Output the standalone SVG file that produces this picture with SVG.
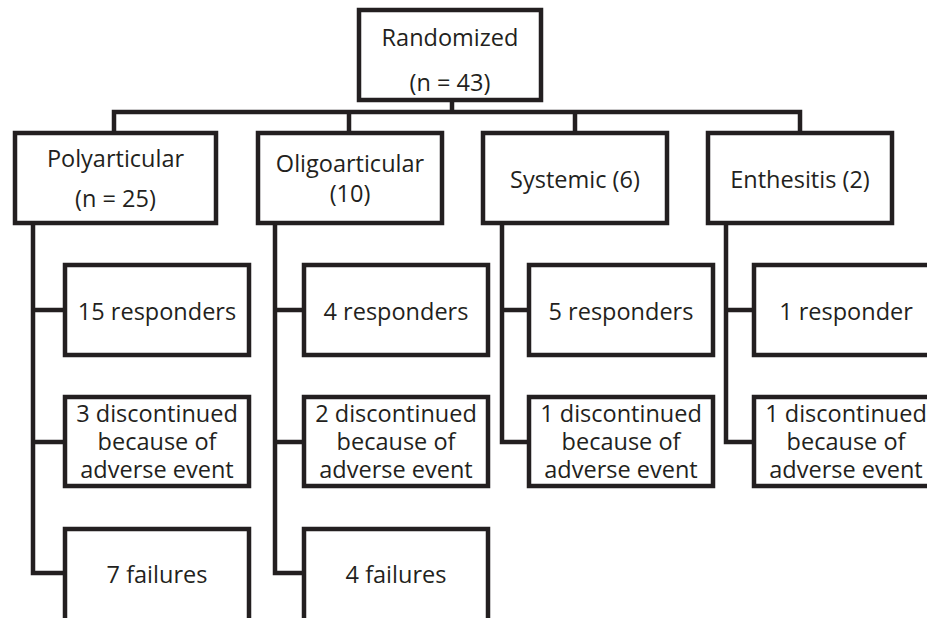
<svg xmlns="http://www.w3.org/2000/svg" width="927" height="618" viewBox="0 0 927 618">
<style>
.box{fill:#fff;stroke:#231f20;stroke-width:4.5}
.c{fill:none;stroke:#231f20;stroke-width:4.5;stroke-linejoin:miter;stroke-linecap:square}
text{font-family:"Open Sans","Noto Sans","Liberation Sans",sans-serif;font-size:23.5px;fill:#231f20;text-anchor:middle}
</style>
<rect width="927" height="618" fill="#fff"/>
<g id="connectors">
<path class="c" d="M452 101V112M114 131V112H800V131M349 112V131M575 112V131"/>
<path class="c" d="M33 226V573H63M33 310H63M33 442H63"/>
<path class="c" d="M275 226V573H302M275 310H302M275 442H302"/>
<path class="c" d="M502 226V442H527M502 310H527"/>
<path class="c" d="M726 226V442H752M726 310H752"/>
</g>
<g id="root"><rect class="box" x="359" y="10" width="182" height="90"/><text x="450" y="46">Randomized</text><text x="450" y="91">(n = 43)</text></g>
<g id="poly"><rect class="box" x="15" y="133" width="201" height="90"/><text x="115.5" y="167">Polyarticular</text><text x="115.5" y="207">(n = 25)</text></g>
<g id="oligo"><rect class="box" x="258" y="133" width="184" height="90"/><text x="350" y="172">Oligoarticular</text><text x="350" y="202">(10)</text></g>
<g id="systemic"><rect class="box" x="483" y="133" width="184" height="90"/><text x="575" y="188">Systemic (6)</text></g>
<g id="enthesitis"><rect class="box" x="708" y="133" width="184" height="90"/><text x="800" y="188">Enthesitis (2)</text></g>
<g id="poly-resp"><rect class="box" x="65" y="265" width="184" height="90"/><text x="157" y="320">15 responders</text></g>
<g id="poly-disc"><rect class="box" x="65" y="397" width="184" height="89"/><text x="157" y="422">3 discontinued</text><text x="157" y="450">because of</text><text x="157" y="478">adverse event</text></g>
<g id="poly-fail"><rect class="box" x="65" y="529" width="184" height="100"/><text x="157" y="583">7 failures</text></g>
<g id="oligo-resp"><rect class="box" x="304" y="265" width="184" height="90"/><text x="396" y="320">4 responders</text></g>
<g id="oligo-disc"><rect class="box" x="304" y="397" width="184" height="89"/><text x="396" y="422">2 discontinued</text><text x="396" y="450">because of</text><text x="396" y="478">adverse event</text></g>
<g id="oligo-fail"><rect class="box" x="304" y="529" width="184" height="100"/><text x="396" y="583">4 failures</text></g>
<g id="sys-resp"><rect class="box" x="529" y="265" width="184" height="90"/><text x="621" y="320">5 responders</text></g>
<g id="sys-disc"><rect class="box" x="529" y="397" width="184" height="89"/><text x="621" y="422">1 discontinued</text><text x="621" y="450">because of</text><text x="621" y="478">adverse event</text></g>
<g id="enth-resp"><rect class="box" x="754" y="265" width="184" height="90"/><text x="846" y="320">1 responder</text></g>
<g id="enth-disc"><rect class="box" x="754" y="397" width="184" height="89"/><text x="846" y="422">1 discontinued</text><text x="846" y="450">because of</text><text x="846" y="478">adverse event</text></g>
</svg>
